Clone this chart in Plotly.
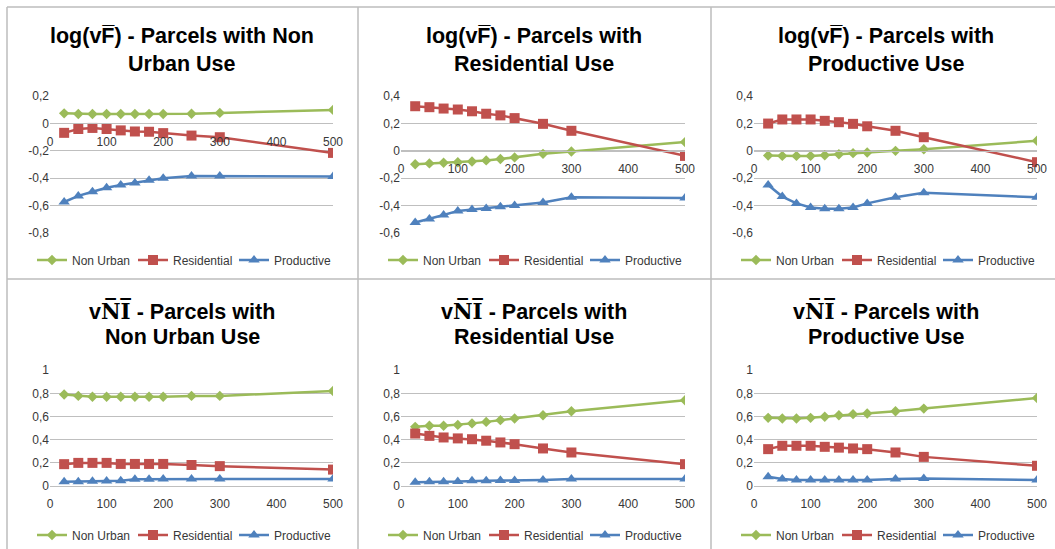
import plotly.graph_objects as go

W, H = 1055, 549

# ---------------- data ----------------
dist = [25, 50, 75, 100, 125, 150, 175, 200, 250, 300, 500]
series_names = ["Non Urban", "Residential", "Productive"]

# log(vF) - Parcels with Non Urban Use
vf_nu_nonurban = [0.075, 0.07, 0.07, 0.07, 0.07, 0.07, 0.07, 0.07, 0.072, 0.078, 0.10]
vf_nu_residential = [-0.068, -0.04, -0.032, -0.04, -0.05, -0.058, -0.06, -0.07, -0.088, -0.10, -0.215]
vf_nu_productive = [-0.575, -0.53, -0.50, -0.47, -0.45, -0.435, -0.415, -0.40, -0.385, -0.385, -0.388]

# log(vF) - Parcels with Residential Use
vf_re_nonurban = [-0.098, -0.092, -0.087, -0.083, -0.078, -0.07, -0.06, -0.048, -0.022, -0.005, 0.064]
vf_re_residential = [0.327, 0.32, 0.31, 0.303, 0.29, 0.272, 0.26, 0.24, 0.198, 0.147, -0.037]
vf_re_productive = [-0.525, -0.50, -0.47, -0.44, -0.43, -0.422, -0.41, -0.40, -0.378, -0.34, -0.345]

# log(vF) - Parcels with Productive Use
vf_pr_nonurban = [-0.034, -0.037, -0.037, -0.037, -0.032, -0.025, -0.017, -0.012, 0.0, 0.012, 0.074]
vf_pr_residential = [0.20, 0.23, 0.23, 0.23, 0.22, 0.21, 0.198, 0.18, 0.147, 0.10, -0.083]
vf_pr_productive = [-0.25, -0.335, -0.385, -0.415, -0.425, -0.425, -0.415, -0.385, -0.34, -0.307, -0.34]

# vNI - Parcels with Non Urban Use
ni_nu_nonurban = [0.79, 0.778, 0.77, 0.77, 0.77, 0.77, 0.77, 0.77, 0.778, 0.778, 0.82]
ni_nu_residential = [0.187, 0.198, 0.198, 0.198, 0.189, 0.189, 0.189, 0.189, 0.18, 0.17, 0.14]
ni_nu_productive = [0.035, 0.035, 0.04, 0.042, 0.043, 0.056, 0.057, 0.058, 0.058, 0.058, 0.058]

# vNI - Parcels with Residential Use
ni_re_nonurban = [0.51, 0.52, 0.52, 0.527, 0.54, 0.553, 0.568, 0.582, 0.61, 0.645, 0.74]
ni_re_residential = [0.452, 0.432, 0.418, 0.41, 0.403, 0.39, 0.375, 0.36, 0.323, 0.288, 0.187]
ni_re_productive = [0.03, 0.035, 0.035, 0.036, 0.043, 0.044, 0.045, 0.046, 0.05, 0.058, 0.058]

# vNI - Parcels with Productive Use
ni_pr_nonurban = [0.588, 0.582, 0.582, 0.588, 0.597, 0.61, 0.62, 0.625, 0.645, 0.668, 0.76]
ni_pr_residential = [0.317, 0.346, 0.346, 0.346, 0.337, 0.33, 0.323, 0.317, 0.288, 0.25, 0.173]
ni_pr_productive = [0.078, 0.058, 0.05, 0.049, 0.049, 0.049, 0.049, 0.05, 0.058, 0.063, 0.05]

titles = [
    ("log(vF\u0305) - Parcels with Non", "Urban Use"),
    ("log(vF\u0305) - Parcels with", "Residential Use"),
    ("log(vF\u0305) - Parcels with", "Productive Use"),
    ("v<span style=\"font-family:'DejaVu Serif'\">N\u0305I\u0305</span> - Parcels with", "Non Urban Use"),
    ("v<span style=\"font-family:'DejaVu Serif'\">N\u0305I\u0305</span> - Parcels with", "Residential Use"),
    ("v<span style=\"font-family:'DejaVu Serif'\">N\u0305I\u0305</span> - Parcels with", "Productive Use"),
]

x_tickvals = [0, 100, 200, 300, 400, 500]
x_ticktext = ["0", "100", "200", "300", "400", "500"]

y_ticks_a = [0.2, 0, -0.2, -0.4, -0.6, -0.8]
y_text_a = ["0,2", "0", "-0,2", "-0,4", "-0,6", "-0,8"]
y_ticks_b = [0.4, 0.2, 0, -0.2, -0.4, -0.6]
y_text_b = ["0,4", "0,2", "0", "-0,2", "-0,4", "-0,6"]
y_ticks_c = [0, 0.2, 0.4, 0.6, 0.8, 1]
y_text_c = ["0", "0,2", "0,4", "0,6", "0,8", "1"]

panels = [
    ([vf_nu_nonurban, vf_nu_residential, vf_nu_productive], y_ticks_a, y_text_a),
    ([vf_re_nonurban, vf_re_residential, vf_re_productive], y_ticks_b, y_text_b),
    ([vf_pr_nonurban, vf_pr_residential, vf_pr_productive], y_ticks_b, y_text_b),
    ([ni_nu_nonurban, ni_nu_residential, ni_nu_productive], y_ticks_c, y_text_c),
    ([ni_re_nonurban, ni_re_residential, ni_re_productive], y_ticks_c, y_text_c),
    ([ni_pr_nonurban, ni_pr_residential, ni_pr_productive], y_ticks_c, y_text_c),
]

# ---------------- styles ----------------
colors = ["#9BBB59", "#C0504D", "#4F81BD"]
symbols = ["diamond", "square", "triangle-up"]
msizes = [8, 10, 10]
GRID = "#BFBFBF"
TXT = "#383838"
FONT = "Liberation Sans, Arial, sans-serif"

# layout in pixels
col_x = [(50, 333), (401, 685), (754, 1037)]
row_y = [(96, 233), (370, 486)]
title_cx = [182, 534, 886]
title_y = [(36, 64), (310, 337)]
legend_y = [260, 535]

def px_x(v):
    return v / W

def px_y(v):
    return 1 - v / H

fig = go.Figure()
layout = dict(
    width=W, height=H, margin=dict(l=0, r=0, t=0, b=0, autoexpand=False),
    paper_bgcolor="white", plot_bgcolor="white",
    font=dict(family=FONT, size=12, color=TXT),
    showlegend=True,
)
annotations = []
shapes = []

for i, (ys, yt, ytt) in enumerate(panels):
    r, c = divmod(i, 3)
    n = i + 1
    xa = "x" if n == 1 else f"x{n}"
    ya = "y" if n == 1 else f"y{n}"
    lg = "legend" if n == 1 else f"legend{n}"
    for k in range(3):
        fig.add_trace(go.Scatter(
            x=dist, y=ys[k], name=series_names[k], mode="lines+markers",
            line=dict(color=colors[k], width=2.5),
            marker=dict(symbol=symbols[k], size=msizes[k], color=colors[k]),
            xaxis=xa, yaxis=ya, legend=lg,
        ))
    ymin, ymax = min(yt), max(yt)
    x0, x1 = col_x[c]
    yt0, yb0 = row_y[r]
    dom_y = [px_y(yb0), px_y(yt0)]
    xaxis = dict(
        domain=[px_x(x0), px_x(x1)], range=[0, 500],
        tickvals=x_tickvals, ticktext=x_ticktext,
        showgrid=False, zeroline=False, showline=True, linecolor=GRID, linewidth=1,
        ticks="outside", ticklen=7, tickcolor="rgba(0,0,0,0)",
        tickfont=dict(size=12, color=TXT), fixedrange=True, automargin=False,
    )
    if r == 0:
        frac = (0 - ymin) / (ymax - ymin)
        xaxis.update(anchor="free", position=dom_y[0] + frac * (dom_y[1] - dom_y[0]))
    else:
        xaxis.update(anchor=ya)
    yaxis = dict(
        domain=dom_y, range=[ymin - 0.002 * (ymax - ymin), ymax + 0.002 * (ymax - ymin)],
        tickvals=yt, ticktext=ytt, anchor=xa,
        showgrid=True, gridcolor=GRID, gridwidth=1, zeroline=False, showline=False,
        ticks="", tickfont=dict(size=12, color=TXT), fixedrange=True, automargin=False,
    )
    layout["xaxis" if n == 1 else f"xaxis{n}"] = xaxis
    layout["yaxis" if n == 1 else f"yaxis{n}"] = yaxis
    layout[lg] = dict(
        orientation="h", x=px_x(x0 - 18), xanchor="left",
        y=px_y(legend_y[r]), yanchor="middle",
        font=dict(size=12, color=TXT, family=FONT), bgcolor="rgba(0,0,0,0)",
        entrywidth=56, itemwidth=30, tracegroupgap=0,
    )
    t1, t2 = titles[i]
    for txt, ty in zip((t1, t2), title_y[r]):
        annotations.append(dict(
            text=f"<b>{txt}</b>", x=px_x(title_cx[c]), y=px_y(ty), xref="paper", yref="paper",
            xanchor="center", yanchor="middle", showarrow=False,
            font=dict(size=21.5, color="black", family=FONT),
        ))

# panel frame lines
frame_lines = [
    (7, 7, 7, H), (7, 7, W, 7),
    (358, 7, 358, H), (711, 7, 711, H),
    (7, 279, W, 279),
]
for (a, b, cc, d) in frame_lines:
    shapes.append(dict(type="line", xref="paper", yref="paper",
                       x0=px_x(a), y0=px_y(b), x1=px_x(cc), y1=px_y(d),
                       line=dict(color="#BDBDBD", width=1.5)))

layout["annotations"] = annotations
layout["shapes"] = shapes
fig.update_layout(**layout)
fig.write_html(
    "out.html",
    config={"displayModeBar": False},
    post_script="document.body.style.margin='0';document.body.style.overflow='hidden';",
)
